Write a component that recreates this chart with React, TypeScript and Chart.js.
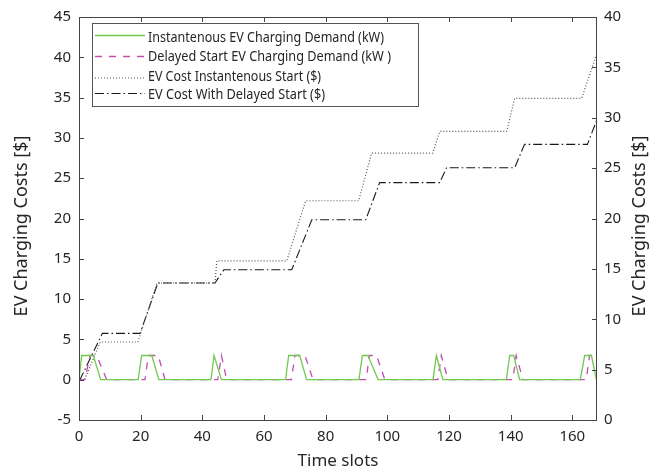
import React, { useEffect, useRef } from 'react';
import { Chart, registerables } from 'chart.js';

Chart.register(...registerables);

// Instantaneous EV charging demand (kW) — breakpoints
const instDemandX = [0, 0.87, 4.63, 7.03, 19.2, 20.3, 23.6, 25.9, 42.8, 43.8, 46.2, 67.0, 68.0, 71.6, 73.8, 90.8, 91.9, 93.7, 97.0, 114.8, 115.9, 118.0, 138.6, 139.7, 141.0, 142.9, 162.6, 164.0, 166.2, 167.8];
const instDemandY = [0, 3, 3, 0, 0, 3, 3, 0, 0, 3, 0, 0, 3, 3, 0, 0, 3, 3, 0, 0, 3, 0, 0, 3, 3, 0, 0, 3, 3, 0];

// Delayed start EV charging demand (kW)
const delayDemandX = [0, 1.9, 3.6, 5.7, 9.0, 21.4, 22.5, 25.7, 27.9, 45.0, 46.2, 47.9, 68.9, 70.0, 73.3, 75.9, 93.2, 94.1, 96.5, 99.2, 116.4, 117.5, 119.7, 140.7, 141.8, 144.0, 164.5, 165.6, 168];
const delayDemandY = [0, 0, 3, 3, 0, 0, 3, 3, 0, 0, 3, 0, 0, 3, 3, 0, 0, 3, 3, 0, 0, 3, 0, 0, 3, 0, 0, 3, 3];

// EV cost, instantaneous start ($)
const instCostX = [0, 1.8, 6.9, 19.1, 25.3, 44.1, 44.7, 67.4, 73.5, 90.7, 94.9, 114.7, 117.0, 138.7, 141.3, 163.0, 168];
const instCostY = [0, 0, 4.68, 4.68, 12.0, 12.0, 14.75, 14.75, 22.2, 22.2, 28.1, 28.1, 30.8, 30.8, 34.9, 34.9, 40.5];

// EV cost with delayed start ($)
const delayCostX = [0, 0.3, 7.6, 19.8, 25.6, 44.1, 47.0, 69.0, 75.5, 93.0, 97.5, 117.0, 119.2, 141.3, 144.5, 164.9, 168];
const delayCostY = [0, 0, 5.75, 5.75, 12.0, 12.0, 13.65, 13.65, 19.84, 19.84, 24.45, 24.45, 26.3, 26.3, 29.2, 29.2, 32.3];

const xTicks = [0, 20, 40, 60, 80, 100, 120, 140, 160];
const leftTicks = [-5, 0, 5, 10, 15, 20, 25, 30, 35, 40, 45];
const rightTicks = [0, 5, 10, 15, 20, 25, 30, 35, 40];

const legendLabels = [
  'Instantenous EV Charging Demand (kW)',
  'Delayed Start EV Charging Demand (kW )',
  'EV Cost Instantenous Start ($)',
  'EV Cost With Delayed Start ($)',
];
const axisTitle = 'EV Charging Costs [$]';
const xTitle = 'Time slots';

const GREEN = '#72c94f';
const MAGENTA = '#c24bb0';
const DOTTED = '#555555';
const DASHDOT = '#1a1a1a';
const DASH_MAG = [7, 7];
const DASH_DOT = [1, 2];
const DASH_DASHDOT = [9, 3, 1.5, 3];
const FONT = '"Noto Sans", "Open Sans", sans-serif';

const toPts = (xs: number[], ys: number[]) => xs.map((x, i) => ({ x, y: ys[i] }));

const boxPlugin = {
  id: 'boxPlugin',
  afterDraw(chart: any) {
    const ctx = chart.ctx as CanvasRenderingContext2D;
    const { left, right, top, bottom } = chart.chartArea;
    const xs = chart.scales.x;
    const yl = chart.scales.y;
    const yr = chart.scales.y2;
    ctx.save();
    ctx.strokeStyle = '#444444';
    ctx.lineWidth = 1;
    ctx.setLineDash([]);
    ctx.strokeRect(Math.round(left) + 0.5, Math.round(top) + 0.5, Math.round(right - left) - 1, Math.round(bottom - top));
    const TL = 5;
    ctx.beginPath();
    xTicks.forEach((v) => {
      const px = Math.round(xs.getPixelForValue(v)) + 0.5;
      ctx.moveTo(px, bottom);
      ctx.lineTo(px, bottom - TL);
      ctx.moveTo(px, top);
      ctx.lineTo(px, top + TL);
    });
    leftTicks.forEach((v) => {
      const py = Math.round(yl.getPixelForValue(v)) + 0.5;
      ctx.moveTo(left, py);
      ctx.lineTo(left + TL, py);
    });
    rightTicks.forEach((v) => {
      const py = Math.round(yr.getPixelForValue(v)) + 0.5;
      ctx.moveTo(right, py);
      ctx.lineTo(right - TL, py);
    });
    ctx.stroke();

    // legend
    const bx = 92.5, by = 23.5, bw = 326, bh = 83;
    ctx.fillStyle = '#ffffff';
    ctx.fillRect(bx, by, bw, bh);
    ctx.strokeStyle = '#555555';
    ctx.lineWidth = 1;
    ctx.strokeRect(bx, by, bw, bh);
    const textY = [37.5, 57, 76.5, 95];
    const lineY = [35, 56, 77.5, 93];
    const textW = [236, 243, 173, 177];
    const styles = [
      { c: GREEN, d: [] as number[], w: 1.6 },
      { c: MAGENTA, d: DASH_MAG, w: 1.3 },
      { c: DOTTED, d: DASH_DOT, w: 1.2 },
      { c: DASHDOT, d: DASH_DASHDOT, w: 1.2 },
    ];
    styles.forEach((s, i) => {
      ctx.beginPath();
      ctx.strokeStyle = s.c;
      ctx.lineWidth = s.w;
      ctx.setLineDash(s.d);
      ctx.moveTo(95, lineY[i] + 0.5);
      ctx.lineTo(145, lineY[i] + 0.5);
      ctx.stroke();
    });
    ctx.setLineDash([]);
    ctx.fillStyle = '#262626';
    ctx.font = `14.5px ${FONT}`;
    ctx.textAlign = 'left';
    ctx.textBaseline = 'middle';
    legendLabels.forEach((t, i) => ctx.fillText(t, 148, textY[i], textW[i]));

    // titles
    ctx.font = `17px ${FONT}`;
    ctx.textAlign = 'center';
    ctx.textBaseline = 'middle';
    ctx.fillText(xTitle, (left + right) / 2, 461);
    ctx.font = `18px ${FONT}`;
    ctx.save();
    ctx.translate(22, 226);
    ctx.rotate(-Math.PI / 2);
    ctx.fillText(axisTitle, 0, 0);
    ctx.restore();
    ctx.save();
    ctx.translate(640, 226);
    ctx.rotate(-Math.PI / 2);
    ctx.fillText(axisTitle, 0, 0);
    ctx.restore();
    ctx.restore();
  },
};

export default function App() {
  const ref = useRef<HTMLCanvasElement | null>(null);
  useEffect(() => {
    if (!ref.current) return;
    const tickFont = { family: FONT, size: 15 };
    const chart = new Chart(ref.current, {
      type: 'line',
      data: {
        datasets: [
          { label: legendLabels[0], data: toPts(instDemandX, instDemandY), borderColor: GREEN, borderWidth: 1.3, pointRadius: 0, yAxisID: 'y', tension: 0 },
          { label: legendLabels[1], data: toPts(delayDemandX, delayDemandY), borderColor: MAGENTA, borderWidth: 1.3, borderDash: DASH_MAG, pointRadius: 0, yAxisID: 'y', tension: 0 },
          { label: legendLabels[2], data: toPts(instCostX, instCostY), borderColor: DOTTED, borderWidth: 1.2, borderDash: DASH_DOT, pointRadius: 0, yAxisID: 'y', tension: 0 },
          { label: legendLabels[3], data: toPts(delayCostX, delayCostY), borderColor: DASHDOT, borderWidth: 1.1, borderDash: DASH_DASHDOT, pointRadius: 0, yAxisID: 'y', tension: 0 },
        ],
      },
      options: {
        responsive: false,
        animation: false,
        layout: { padding: { top: 11, left: 0, right: 0, bottom: 0 } },
        plugins: { legend: { display: false }, tooltip: { enabled: false } },
        scales: {
          x: {
            type: 'linear',
            min: 0,
            max: 168,
            grid: { display: false, drawTicks: false },
            border: { display: false },
            afterBuildTicks: (s: any) => { s.ticks = xTicks.map((v) => ({ value: v })); },
            afterFit: (s: any) => { s.height = 52; },
            ticks: { font: tickFont, color: '#262626', padding: 8, maxRotation: 0, autoSkip: false },
          },
          y: {
            type: 'linear',
            position: 'left',
            min: -5,
            max: 45,
            grid: { display: false, drawTicks: false },
            border: { display: false },
            afterBuildTicks: (s: any) => { s.ticks = leftTicks.map((v) => ({ value: v })); },
            afterFit: (s: any) => { s.width = 79; },
            ticks: { font: tickFont, color: '#262626', padding: 8, autoSkip: false },
          },
          y2: {
            type: 'linear',
            position: 'right',
            min: 0,
            max: 40,
            grid: { display: false, drawTicks: false },
            border: { display: false },
            afterBuildTicks: (s: any) => { s.ticks = rightTicks.map((v) => ({ value: v })); },
            afterFit: (s: any) => { s.width = 65; },
            ticks: { font: tickFont, color: '#262626', padding: 7, autoSkip: false },
          },
        },
      },
      plugins: [boxPlugin],
    });
    return () => chart.destroy();
  }, []);
  return (
    <div style={{ position: 'fixed', left: 0, top: 0, width: 662, height: 472, background: '#fff' }}>
      <canvas ref={ref} width={662} height={472} style={{ display: 'block', width: 662, height: 472 }} />
    </div>
  );
}
